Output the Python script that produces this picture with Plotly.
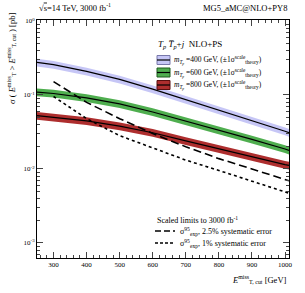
import numpy as np
import plotly.graph_objects as go

# ---- data ----
met_cut = [250, 300, 400, 500, 600, 700, 800, 900, 1000, 1012]
log_m400 = [-0.56, -0.59, -0.68, -0.79, -0.92, -1.06, -1.20, -1.35, -1.49, -1.51]
log_m600 = [-0.96, -0.98, -1.04, -1.12, -1.23, -1.35, -1.47, -1.60, -1.73, -1.75]
log_m800 = [-1.28, -1.30, -1.35, -1.42, -1.51, -1.62, -1.73, -1.84, -1.94, -1.95]
band_rel = 0.12  # relative scale uncertainty

lim_x = [300, 400, 500, 600, 700, 800, 900, 1000, 1012]
log_lim25 = [-0.82, -1.10, -1.32, -1.52, -1.70, -1.86, -2.00, -2.145, -2.16]
log_lim1 = [-1.02, -1.32, -1.55, -1.72, -1.88, -2.02, -2.16, -2.31, -2.33]

x_ticks = [300, 400, 500, 600, 700, 800, 900, 1000]
y_ticks = [1e-3, 1e-2, 1e-1, 1]
y_ticktext = ["10<sup>-3</sup>", "10<sup>-2</sup>", "10<sup>-1</sup>", "10<sup>0</sup>"]
y_minor = [m * 10.0 ** e for e in range(-4, 1) for m in range(2, 10)]

series = [
    ("400", log_m400, "rgba(195,195,245,0.95)", "rgb(120,120,170)"),
    ("600", log_m600, "rgba(70,170,70,0.95)", "rgb(30,90,30)"),
    ("800", log_m800, "rgba(170,35,35,0.95)", "rgb(90,15,15)"),
]

FONT = "Liberation Serif"
fig = go.Figure()

for name, logv, fill, border in series:
    v = 10 ** np.array(logv)
    fig.add_trace(go.Scatter(x=met_cut, y=v * (1 + band_rel), mode="lines",
                             line=dict(width=0), showlegend=False, hoverinfo="skip"))
    fig.add_trace(go.Scatter(x=met_cut, y=v * (1 - band_rel), mode="lines",
                             line=dict(width=0), fill="tonexty", fillcolor=fill,
                             showlegend=False, hoverinfo="skip"))
for name, logv, fill, border in series:
    v = 10 ** np.array(logv)
    fig.add_trace(go.Scatter(x=met_cut, y=v, mode="lines",
                             line=dict(color="black", width=1.2), showlegend=False))

fig.add_trace(go.Scatter(x=lim_x, y=10 ** np.array(log_lim25), mode="lines",
                         line=dict(color="black", width=1.6, dash="8px,4px"), showlegend=False))
fig.add_trace(go.Scatter(x=lim_x, y=10 ** np.array(log_lim1), mode="lines",
                         line=dict(color="black", width=1.6, dash="3px,3px"), showlegend=False))

# ---- manual legends (paper coordinates) ----
def px2x(px):
    return (px - 37) / 252.0

def py2y(py):
    return (258 - py) / 238.0

ann = []
shapes = []
ann.append(dict(x=px2x(156), y=py2y(45), xref="paper", yref="paper", xanchor="left", yanchor="middle",
                text="<i>T</i><sub><i>p</i></sub> <i>T̅</i><sub><i>p</i></sub>+<i>j</i>  NLO+PS",
                showarrow=False, font=dict(family=FONT, size=9, color="black")))
for i, (name, logv, fill, border) in enumerate(series):
    cy = [60, 72.5, 85][i]
    shapes.append(dict(type="rect", xref="paper", yref="paper", x0=px2x(157), x1=px2x(170),
                       y0=py2y(cy + 4.5), y1=py2y(cy - 4.5), fillcolor=fill,
                       line=dict(color=border, width=1)))
    shapes.append(dict(type="line", xref="paper", yref="paper", x0=px2x(157), x1=px2x(170),
                       y0=py2y(cy), y1=py2y(cy), line=dict(color="black", width=1.2)))
    ann.append(dict(x=px2x(172), y=py2y(cy), xref="paper", yref="paper", xanchor="left", yanchor="middle",
                    text=f"<i>m</i><sub><i>T<sub>p</sub></i></sub> ={name} GeV, (±1σ<sup>scale</sup><sub>theory</sub>)",
                    showarrow=False, font=dict(family=FONT, size=7.5, color="black")))

ann.append(dict(x=px2x(155), y=py2y(220), xref="paper", yref="paper", xanchor="left", yanchor="middle",
                text="Scaled limits to 3000 fb<sup>-1</sup>", showarrow=False,
                font=dict(family=FONT, size=8, color="black")))
for cy, dash, label in [(231, "dash", "2.5% systematic error"), (243, "dot", "1% systematic error")]:
    shapes.append(dict(type="line", xref="paper", yref="paper", x0=px2x(155), x1=px2x(175),
                       y0=py2y(cy), y1=py2y(cy),
                       line=dict(color="black", width=1.6, dash=("6px,3px" if dash == "dash" else "3px,2px"))))
    ann.append(dict(x=px2x(178), y=py2y(cy), xref="paper", yref="paper", xanchor="left", yanchor="middle",
                    text=f"σ<sup>95</sup><sub>exp</sub>, {label}", showarrow=False,
                    font=dict(family=FONT, size=8, color="black")))

# headers and axis titles
ann.append(dict(x=0, y=py2y(8), xref="paper", yref="paper", xanchor="left", yanchor="middle",
                text="√<span style='text-decoration:overline'>s</span>=14 TeV, 3000 fb<sup>-1</sup>",
                showarrow=False, font=dict(family=FONT, size=8.5, color="black")))
ann.append(dict(x=1, y=py2y(8), xref="paper", yref="paper", xanchor="right", yanchor="middle",
                text="MG5_aMC@NLO+PY8", showarrow=False, font=dict(family=FONT, size=8.5, color="black")))
ann.append(dict(x=px2x(12), y=py2y(59), xref="paper", yref="paper", xanchor="center", yanchor="middle",
                textangle=-90,
                text="σ ( <i>E</i><sup>miss</sup><sub>T</sub> > <i>E</i><sup>miss</sup><sub>T, cut</sub> ) [pb]",
                showarrow=False, font=dict(family=FONT, size=8.5, color="black")))
ann.append(dict(x=1, y=py2y(279), xref="paper", yref="paper", xanchor="right", yanchor="middle",
                text="<i>E</i><sup>miss</sup><sub>T, cut</sub> [GeV]",
                showarrow=False, font=dict(family=FONT, size=8.5, color="black")))

fig.update_layout(
    width=305, height=293,
    margin=dict(l=37, r=16, t=20, b=35),
    plot_bgcolor="white", paper_bgcolor="white",
    annotations=ann, shapes=shapes,
    font=dict(family=FONT, size=7, color="black"),
)
fig.update_xaxes(range=[250, 1012], tickvals=x_ticks, ticks="inside", ticklen=6, tickwidth=1,
                 showline=True, linecolor="black", linewidth=1, mirror="allticks", showgrid=False,
                 zeroline=False, tickfont=dict(family=FONT, size=7), ticklabeloverflow="allow",
                 minor=dict(ticks="inside", ticklen=3, dtick=20, tick0=0, showgrid=False))
fig.update_yaxes(type="log", range=[-3.203, 0.0135], tickvals=y_ticks, ticktext=y_ticktext,
                 ticks="inside", ticklen=6, tickwidth=1, showline=True, linecolor="black", linewidth=1,
                 mirror="allticks", showgrid=False, zeroline=False, tickfont=dict(family=FONT, size=7),
                 ticklabeloverflow="allow",
                 minor=dict(ticks="inside", ticklen=3, tickmode="array", tickvals=y_minor, showgrid=False))

fig.write_html("out.html", config={"displayModeBar": False},
               post_script="document.body.style.margin='0';document.body.style.overflow='hidden';")
